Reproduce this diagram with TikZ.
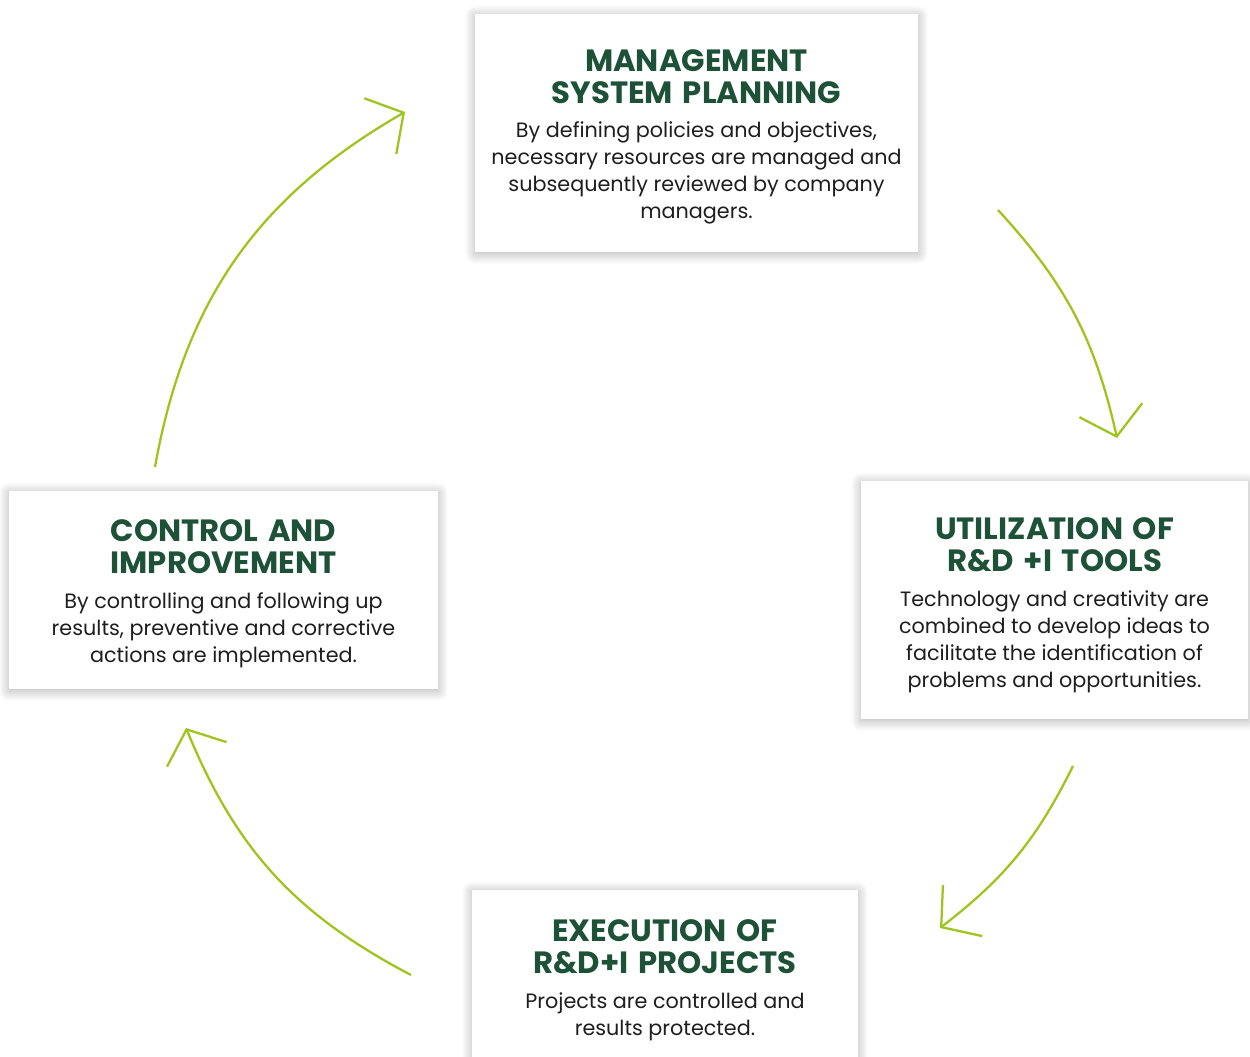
\documentclass[tikz,border=0pt]{standalone}
\usepackage{fontspec}
\setmainfont{Poppins}
\newfontfamily\headfont{Poppins}[WordSpace=1.5]
\usetikzlibrary{positioning,arrows.meta,shadows.blur}
\definecolor{titlegreen}{RGB}{30,82,56}
\definecolor{cyclegreen}{RGB}{160,196,30}
\definecolor{bodytext}{RGB}{30,30,30}
\tikzset{
  card/.style={fill=white,inner sep=0pt,blur shadow={shadow xshift=0pt,shadow yshift=-1pt,shadow blur radius=6pt,shadow blur steps=12,shadow opacity=32}},
  heading/.style={inner sep=0pt,align=center,text=titlegreen,font=\headfont\fontsize{17.5}{18.2}\selectfont\bfseries},
  blurb/.style={inner sep=0pt,align=center,text=bodytext,font=\fontsize{11.8}{15.3}\selectfont},
  cyclearrow/.style={cyclegreen,line width=1.3pt,-{Straight Barb[angle=100:0.84cm]}}
}

\begin{document}
\begin{tikzpicture}[x=0.02cm,y=0.02cm]
  \useasboundingbox (0,0) rectangle (1250,1057);
  \clip (0,0) rectangle (1250,1057);

  % planning (top)
  \node[card,minimum width=8.86cm,minimum height=4.76cm] (plan) at (696.5,924) {};
  \node[heading,below=0.72cm of plan.north] (plantitle) {MANAGEMENT\\SYSTEM PLANNING};
  \node[blurb,below=0.34cm of plantitle] (plantext) {By defining policies and objectives,\\necessary resources are managed and\\subsequently reviewed by company\\managers.};

  % tools (right)
  \node[card,minimum width=7.74cm,minimum height=4.76cm] (tools) at (1054.5,457) {};
  \node[heading,below=0.74cm of tools.north] (toolstitle) {UTILIZATION OF\\R\&D +I TOOLS};
  \node[blurb,below=0.36cm of toolstitle] (toolstext) {Technology and creativity are\\combined to develop ideas to\\facilitate the identification of\\problems and opportunities.};

  % execution (bottom)
  \node[card,minimum width=7.72cm,minimum height=3.52cm] (exec) at (665,79) {};
  \node[heading,below=0.60cm of exec.north] (exectitle) {EXECUTION OF\\R\&D+I PROJECTS};
  \node[blurb,below=0.36cm of exectitle] (exectext) {Projects are controlled and\\results protected.};

  % control (left)
  \node[card,minimum width=8.58cm,minimum height=3.96cm] (control) at (223.5,467) {};
  \node[heading,below=0.58cm of control.north] (controltitle) {CONTROL AND\\IMPROVEMENT};
  \node[blurb,below=0.36cm of controltitle] (controltext) {By controlling and following up\\results, preventive and corrective\\actions are implemented.};

  % cycle arrows
  \coordinate (c1s) at (155,590);  \coordinate (c1e) at (405,945);
  \coordinate (c2s) at (998,847);  \coordinate (c2e) at (1117,619);
  \coordinate (c3s) at (1073,291); \coordinate (c3e) at (940,129);
  \coordinate (c4s) at (411,82);   \coordinate (c4e) at (186,329);
  \draw[cyclearrow] (c1s) to[bend left=25] (c1e);
  \draw[cyclearrow] (c2s) to[bend left=15] (c2e);
  \draw[cyclearrow] (c3s) to[bend left=13] (c3e);
  \draw[cyclearrow] (c4s) to[bend left=20] (c4e);
\end{tikzpicture}
\end{document}
